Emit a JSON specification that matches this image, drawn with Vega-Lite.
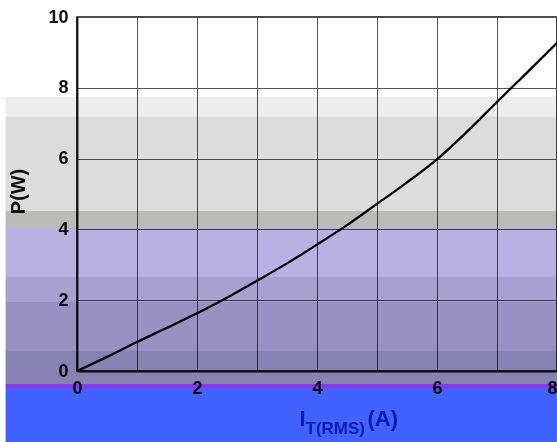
{
  "$schema": "https://vega.github.io/schema/vega-lite/v6.json",
  "width": 480,
  "height": 354,
  "autosize": {"type": "none"},
  "padding": {"left": 77, "top": 17, "right": 0, "bottom": 71},
  "background": "white",
  "config": {
    "view": {"stroke": "#111", "strokeWidth": 1.6},
    "font": "Liberation Sans"
  },
  "resolve": {"scale": {"x": "independent", "y": "independent"}},
  "layer": [
    {
      "data": {
        "values": [
          {"I": 0, "P": 0},
          {"I": 0.5, "P": 0.4},
          {"I": 1, "P": 0.82},
          {"I": 1.5, "P": 1.22},
          {"I": 2, "P": 1.63},
          {"I": 2.5, "P": 2.07},
          {"I": 3, "P": 2.55},
          {"I": 3.5, "P": 3.04},
          {"I": 4, "P": 3.57},
          {"I": 4.5, "P": 4.12},
          {"I": 5, "P": 4.72},
          {"I": 5.5, "P": 5.33},
          {"I": 6, "P": 5.98},
          {"I": 6.5, "P": 6.76},
          {"I": 7, "P": 7.6},
          {"I": 7.5, "P": 8.43},
          {"I": 8, "P": 9.27}
        ]
      },
      "mark": {"type": "line", "color": "black", "strokeWidth": 2.3, "interpolate": "monotone"},
      "encoding": {
        "x": {
          "field": "I",
          "type": "quantitative",
          "scale": {"domain": [0, 8], "nice": false},
          "axis": {
            "values": [0, 1, 2, 3, 4, 5, 6, 7, 8],
            "labelExpr": "datum.value % 2 === 0 ? datum.label : ''",
            "labelAlign": {"condition": {"test": "datum.value === 8", "value": "right"}, "value": "center"},
            "grid": true,
            "gridColor": "#555",
            "gridWidth": 1,
            "gridOpacity": 1,
            "ticks": false,
            "domainColor": "#111",
            "domainWidth": 1.8,
            "labelFont": "Liberation Sans",
            "labelFontSize": 18,
            "labelFontWeight": "bold",
            "labelColor": "#111",
            "labelPadding": 8,
            "labelFlush": false,
            "title": "I",
            "titleFont": "Liberation Sans",
            "titleFontSize": 22,
            "titleFontWeight": "bold",
            "titleColor": "#3048b0",
            "titleAlign": "left",
            "titleBaseline": "alphabetic",
            "titleX": 222,
            "titleY": 54
          }
        },
        "y": {
          "field": "P",
          "type": "quantitative",
          "scale": {"domain": [0, 10], "nice": false},
          "axis": {
            "values": [0, 2, 4, 6, 8, 10],
            "grid": true,
            "gridColor": "#555",
            "gridWidth": 1,
            "gridOpacity": 1,
            "ticks": false,
            "domainColor": "#111",
            "domainWidth": 1.8,
            "labelFont": "Liberation Sans",
            "labelFontSize": 18,
            "labelFontWeight": "bold",
            "labelColor": "#111",
            "labelPadding": 9,
            "title": "P(W)",
            "titleFont": "Liberation Sans",
            "titleFontSize": 20,
            "titleFontWeight": "bold",
            "titleColor": "#111",
            "titleAngle": 270,
            "titleAlign": "center",
            "titleBaseline": "alphabetic",
            "titleX": -53,
            "titleY": 174
          }
        }
      }
    },
    {
      "data": {
        "values": [
          {"band": "b1", "p1": 7.75, "p2": 7.18},
          {"band": "b2", "p1": 7.18, "p2": 4.52},
          {"band": "b3", "p1": 4.52, "p2": 4.07},
          {"band": "b4", "p1": 4.07, "p2": 2.66},
          {"band": "b5", "p1": 2.66, "p2": 1.95},
          {"band": "b6", "p1": 1.95, "p2": 0.565},
          {"band": "b7", "p1": 0.565, "p2": -0.37},
          {"band": "b8", "p1": -0.37, "p2": -0.48},
          {"band": "b9", "p1": -0.48, "p2": -2.4}
        ]
      },
      "mark": {"type": "rect", "blend": "multiply"},
      "encoding": {
        "x": {
          "datum": -1.19,
          "type": "quantitative",
          "scale": {"domain": [0, 8], "nice": false},
          "axis": {
            "orient": "bottom",
            "labels": false,
            "ticks": false,
            "domain": false,
            "grid": false,
            "title": "T(RMS)",
            "titleFont": "Liberation Sans",
            "titleFontSize": 17,
            "titleFontWeight": "bold",
            "titleColor": "#3048b0",
            "titleAlign": "left",
            "titleBaseline": "alphabetic",
            "titleX": 228,
            "titleY": 62
          }
        },
        "x2": {"datum": 8.3},
        "y": {
          "field": "p1",
          "type": "quantitative",
          "scale": {"domain": [0, 10], "nice": false},
          "axis": {
            "orient": "right",
            "labels": false,
            "ticks": false,
            "domain": false,
            "grid": false,
            "title": "(A)",
            "titleFont": "Liberation Sans",
            "titleFontSize": 22,
            "titleFontWeight": "bold",
            "titleColor": "#3048b0",
            "titleAngle": 0,
            "titleAlign": "left",
            "titleBaseline": "alphabetic",
            "titleX": -190,
            "titleY": 408
          }
        },
        "y2": {"field": "p2"},
        "color": {
          "field": "band",
          "type": "nominal",
          "scale": {
            "domain": ["b1", "b2", "b3", "b4", "b5", "b6", "b7", "b8", "b9"],
            "range": ["#ededed", "#dcdcdc", "#bcbcb6", "#b8b1e2", "#a7a0d1", "#9891c2", "#8882b2", "#8a36f2", "#4262ff"]
          },
          "legend": null
        }
      }
    }
  ]
}
